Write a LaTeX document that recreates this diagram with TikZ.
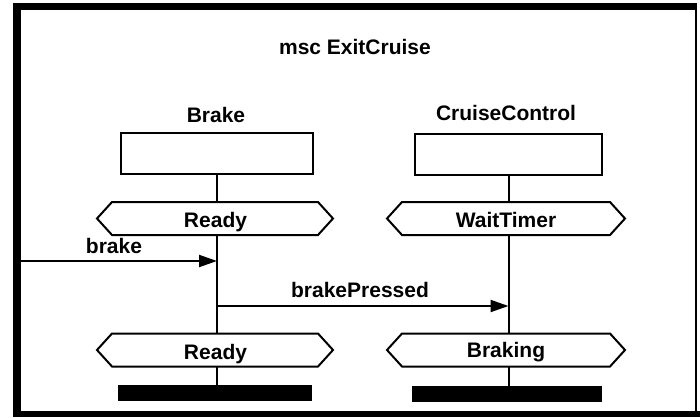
\documentclass[tikz,border=0pt]{standalone}
\usepackage{fontspec}
\setmainfont{Liberation Sans}
\usetikzlibrary{arrows.meta}
\tikzset{
  every node/.style={font=\fontsize{21}{24}\selectfont\bfseries, inner sep=0pt, outer sep=0pt},
  line/.style={line width=2pt},
  instbox/.style={draw, line width=2pt, minimum width=192pt, minimum height=41pt},
  condbox/.style={minimum width=236pt, minimum height=33pt},
  endbar/.style={fill=black, minimum height=16pt},
  msg/.style={line width=2pt, -{Triangle[length=18pt, width=12pt]}},
  lbl/.style={anchor=base},
}
% hexagonal condition symbol drawn around a named node
\newcommand\condhex[1]{%
  \draw[line] (#1.west) -- ([xshift=15pt]#1.north west) -- ([xshift=-15pt]#1.north east)
    -- (#1.east) -- ([xshift=-15pt]#1.south east) -- ([xshift=15pt]#1.south west) -- cycle;}
\begin{document}
\begin{tikzpicture}[x=1pt, y=-1pt]
\useasboundingbox (0,0) rectangle (700,417);
\fill[white] (0,0) rectangle (700,417);

% diagram frame
\draw[line width=8pt] (17,3) -- (17,417);
\draw[line width=7pt] (13,7) -- (697,7);
\draw[line width=6pt] (13,414) -- (700,414);
\draw[line width=2.5pt] (696,7) -- (696,414);

\node[lbl] (title) at (355,55) {msc ExitCruise};

% instance heads
\node[lbl] (brakeName) at (216,122) {Brake};
\node[lbl] (ccName) at (506,121) {CruiseControl};
\node[instbox] (brakeBox) at (217,153.5) {};
\node[instbox, minimum width=187pt] (ccBox) at (508.5,154) {};

% conditions
\node[condbox] (rdyA) at (215,218.5) {};
\node[lbl] at (215.5,227) {Ready};
\node[condbox, minimum width=238pt] (waitC) at (506,218.5) {};
\node[lbl] at (506,227) {WaitTimer};
\node[condbox] (rdyB) at (215,350) {};
\node[lbl] at (215.5,359) {Ready};
\node[condbox, minimum width=238pt] (brkC) at (506,350) {};
\node[lbl] at (506,357) {Braking};
\condhex{rdyA}
\condhex{waitC}
\condhex{rdyB}
\condhex{brkC}

% instance ends
\node[endbar, minimum width=194pt] (endA) at (215,393) {};
\node[endbar, minimum width=190pt] (endB) at (507,394) {};

% lifelines
\draw[line] (brakeBox.south) -- (brakeBox.south |- rdyA.north);
\draw[line] (brakeBox.south |- rdyA.south) -- (brakeBox.south |- rdyB.north);
\draw[line] (brakeBox.south |- rdyB.south) -- (brakeBox.south |- endA.north);
\draw[line] (ccBox.south) -- (ccBox.south |- waitC.north);
\draw[line] (ccBox.south |- waitC.south) -- (ccBox.south |- brkC.north);
\draw[line] (ccBox.south |- brkC.south) -- (ccBox.south |- endB.north);

% messages
\coordinate (envIn) at (21,261);
\coordinate (brakeRcv) at (brakeBox.south |- envIn);
\coordinate (pressSnd) at (217,306);
\coordinate (pressRcv) at (ccBox.south |- pressSnd);
\draw[msg] (envIn) -- (brakeRcv);
\draw[msg] (pressSnd) -- (pressRcv);
\node[lbl] (brakeLbl) at (114,253) {brake};
\node[lbl] (pressLbl) at (360,297) {brakePressed};
\end{tikzpicture}
\end{document}
